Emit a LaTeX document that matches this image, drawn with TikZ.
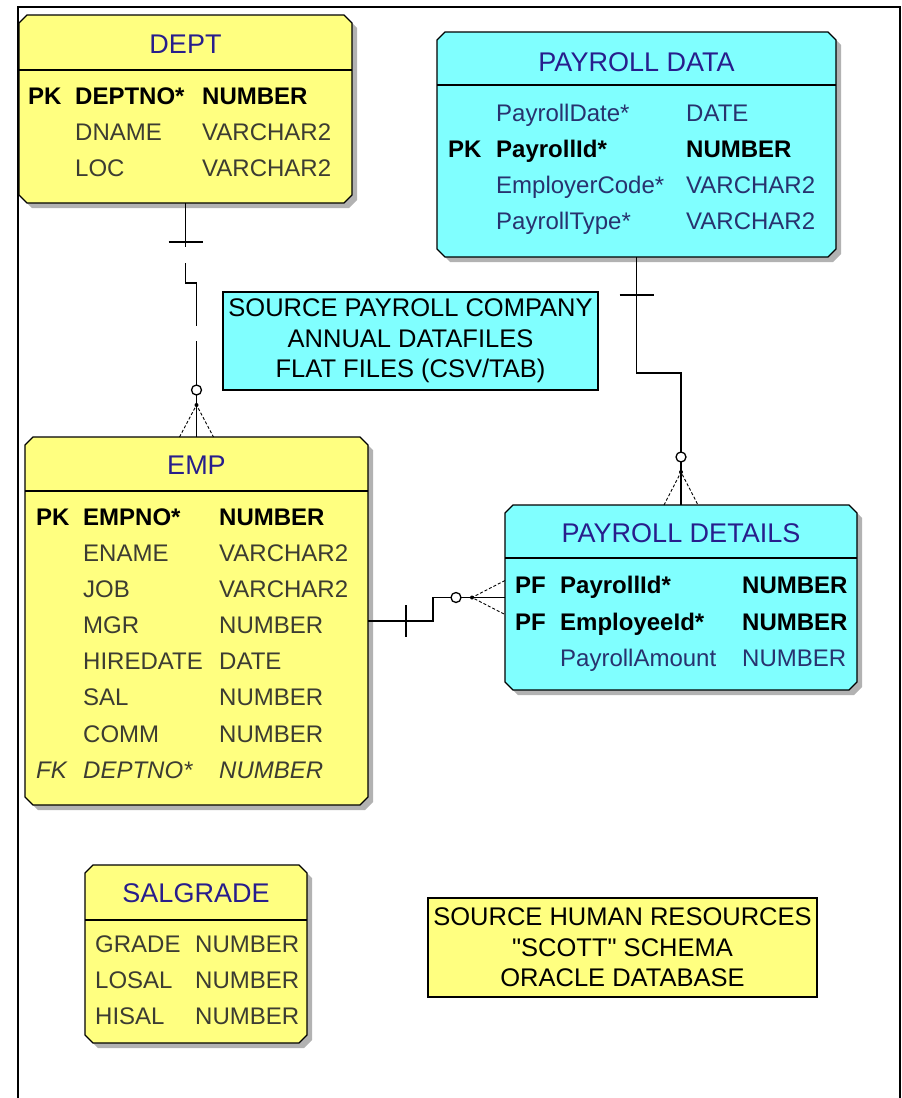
\documentclass[tikz,border=0pt]{standalone}
\usepackage{fontspec}
\setmainfont{Liberation Sans}
\newfontfamily\notefont{Liberation Sans}[Ligatures=TeXOff]
\usetikzlibrary{calc}

\definecolor{entyellow}{RGB}{255,255,128}
\definecolor{entcyan}{RGB}{128,255,255}
\definecolor{titleblue}{RGB}{40,30,140}
\definecolor{ytext}{RGB}{60,60,50}
\definecolor{ctext}{RGB}{40,50,110}

\tikzset{
  ent/.style={rectangle, inner sep=0pt, outer sep=0pt},
  title/.style={font=\fontsize{27}{30}\selectfont, text=titleblue, anchor=base, inner sep=0pt},
  txt/.style={font=\fontsize{24}{28}\selectfont, anchor=base west, inner sep=0pt},
  pk/.style={txt, font=\fontsize{24}{28}\selectfont\bfseries, text=black},
  yfld/.style={txt, text=ytext},
  cfld/.style={txt, text=ctext},
  fk/.style={txt, font=\fontsize{24}{28}\selectfont\itshape, text=ytext},
  note/.style={draw, line width=1.3pt, inner sep=0pt, align=center,
    font=\notefont\fontsize{25.5}{30.5}\selectfont},
  rel/.style={line width=1.3pt},
  foot/.style={line width=0.9pt, dash pattern=on 3pt off 2pt},
}

% chamfered outline with drop shadow round an entity node
\newcommand{\chamferbox}[2]{%
  \fill[black!30] ($(#1.north west)+(13,5)$) -- ($(#1.north east)+(-3,5)$)
    -- ($(#1.north east)+(5,13)$) -- ($(#1.south east)+(5,-3)$)
    -- ($(#1.south east)+(-3,5)$) -- ($(#1.south west)+(13,5)$)
    -- ($(#1.south west)+(5,-3)$) -- ($(#1.north west)+(5,13)$) -- cycle;
  \draw[rel, fill=#2] ($(#1.north west)+(8,0)$) -- ($(#1.north east)+(-8,0)$)
    -- ($(#1.north east)+(0,8)$) -- ($(#1.south east)+(0,-8)$)
    -- ($(#1.south east)+(-8,0)$) -- ($(#1.south west)+(8,0)$)
    -- ($(#1.south west)+(0,-8)$) -- ($(#1.north west)+(0,8)$) -- cycle;
}

\begin{document}
\begin{tikzpicture}[x=1pt, y=-1pt]
\useasboundingbox (0,0) rectangle (902,1098);
% frame
\draw[line width=2pt] (18,1098) -- (18,7) -- (900,7) -- (900,1098);

% entities
\node[ent, minimum width=333pt, minimum height=188pt] (dept) at (185.5,109) {};
\chamferbox{dept}{entyellow}
\node[ent, minimum width=399pt, minimum height=225pt] (pdata) at (636.5,144.5) {};
\chamferbox{pdata}{entcyan}
\node[ent, minimum width=343pt, minimum height=368pt] (emp) at (196.5,621) {};
\chamferbox{emp}{entyellow}
\node[ent, minimum width=352pt, minimum height=185pt] (pdet) at (681,597.5) {};
\chamferbox{pdet}{entcyan}
\node[ent, minimum width=222pt, minimum height=178pt] (salgrade) at (196,954) {};
\chamferbox{salgrade}{entyellow}

% header lines
\draw[rel] (dept.west |- 0,70) -- (dept.east |- 0,70);
\draw[rel] (pdata.west |- 0,85) -- (pdata.east |- 0,85);
\draw[rel] (emp.west |- 0,491) -- (emp.east |- 0,491);
\draw[rel] (pdet.west |- 0,558) -- (pdet.east |- 0,558);
\draw[rel] (salgrade.west |- 0,920) -- (salgrade.east |- 0,920);

% titles
\node[title] (dept-title) at (185.5,53) {DEPT};
\node[title] (pdata-title) at (636.5,71) {PAYROLL DATA};
\node[title] (emp-title) at (196.5,474) {EMP};
\node[title] (pdet-title) at (681,542) {PAYROLL DETAILS};
\node[title] (salgrade-title) at (196,902) {SALGRADE};

% DEPT columns
\node[pk] (dept-k1) at (28,104) {PK};
\node[pk] (dept-f1) at (75,104) {DEPTNO*};
\node[pk] (dept-t1) at (202,104) {NUMBER};
\node[yfld] (dept-f2) at (75,140) {DNAME};
\node[yfld] (dept-t2) at (202,140) {VARCHAR2};
\node[yfld] (dept-f3) at (75,176) {LOC};
\node[yfld] (dept-t3) at (202,176) {VARCHAR2};

% PAYROLL DATA columns
\node[cfld] (pdata-f1) at (496,121) {PayrollDate*};
\node[cfld] (pdata-t1) at (686,121) {DATE};
\node[pk] (pdata-k2) at (448,157) {PK};
\node[pk] (pdata-f2) at (496,157) {PayrollId*};
\node[pk] (pdata-t2) at (686,157) {NUMBER};
\node[cfld] (pdata-f3) at (496,193) {EmployerCode*};
\node[cfld] (pdata-t3) at (686,193) {VARCHAR2};
\node[cfld] (pdata-f4) at (496,229) {PayrollType*};
\node[cfld] (pdata-t4) at (686,229) {VARCHAR2};

% EMP columns
\node[pk] (emp-k1) at (36,525) {PK};
\node[pk] (emp-f1) at (83,525) {EMPNO*};
\node[pk] (emp-t1) at (219,525) {NUMBER};
\node[yfld] (emp-f2) at (83,561) {ENAME};
\node[yfld] (emp-t2) at (219,561) {VARCHAR2};
\node[yfld] (emp-f3) at (83,597) {JOB};
\node[yfld] (emp-t3) at (219,597) {VARCHAR2};
\node[yfld] (emp-f4) at (83,633) {MGR};
\node[yfld] (emp-t4) at (219,633) {NUMBER};
\node[yfld] (emp-f5) at (83,669) {HIREDATE};
\node[yfld] (emp-t5) at (219,669) {DATE};
\node[yfld] (emp-f6) at (83,705) {SAL};
\node[yfld] (emp-t6) at (219,705) {NUMBER};
\node[yfld] (emp-f7) at (83,742) {COMM};
\node[yfld] (emp-t7) at (219,742) {NUMBER};
\node[fk] (emp-k8) at (36,778) {FK};
\node[fk] (emp-f8) at (83,778) {DEPTNO*};
\node[fk] (emp-t8) at (219,778) {NUMBER};

% PAYROLL DETAILS columns
\node[pk] (pdet-k1) at (515,593) {PF};
\node[pk] (pdet-f1) at (560,593) {PayrollId*};
\node[pk] (pdet-t1) at (742,593) {NUMBER};
\node[pk] (pdet-k2) at (515,630) {PF};
\node[pk] (pdet-f2) at (560,630) {EmployeeId*};
\node[pk] (pdet-t2) at (742,630) {NUMBER};
\node[cfld] (pdet-f3) at (560,666) {PayrollAmount};
\node[cfld] (pdet-t3) at (742,666) {NUMBER};

% SALGRADE columns
\node[yfld] (salgrade-f1) at (95,952) {GRADE};
\node[yfld] (salgrade-t1) at (195,952) {NUMBER};
\node[yfld] (salgrade-f2) at (95,988) {LOSAL};
\node[yfld] (salgrade-t2) at (195,988) {NUMBER};
\node[yfld] (salgrade-f3) at (95,1024) {HISAL};
\node[yfld] (salgrade-t3) at (195,1024) {NUMBER};

% notes
\node[note, fill=entcyan, minimum width=375pt, minimum height=98pt] (srcpay) at (410.5,341)
  {SOURCE PAYROLL COMPANY\\ANNUAL DATAFILES\\FLAT FILES (CSV/TAB)};
\node[note, fill=entyellow, minimum width=389pt, minimum height=99pt] (srchr) at (622.5,947.5)
  {SOURCE HUMAN RESOURCES\\"SCOTT" SCHEMA\\ORACLE DATABASE};

% DEPT -- EMP (optional, dashed)
\draw[rel, dash pattern=on 44pt off 16pt on 74pt off 15pt on 60pt]
  (dept.south) -- ++(0,80) -| ($(emp.north)+(0,-52)$);
\draw[rel] ($(dept.south)+(-17,39)$) -- ++(34,0);
\draw[rel] ($(emp.north)+(0,-47)$) circle[radius=5pt];
\draw[rel] ($(emp.north)+(0,-42)$) -- (emp.north);
\fill ($(emp.north)+(0,-32)$) circle[radius=2pt];
\draw[foot] ($(emp.north)+(-17,0)$) -- ($(emp.north)+(0,-32)$) -- ($(emp.north)+(17,0)$);

% PAYROLL DATA -- PAYROLL DETAILS
\draw[rel] (pdata.south) -- ++(0,116) -| ($(pdet.north)+(0,-53)$);
\draw[rel] ($(pdata.south)+(-17,38)$) -- ++(34,0);
\draw[rel] ($(pdet.north)+(0,-48)$) circle[radius=5pt];
\draw[rel] ($(pdet.north)+(0,-43)$) -- (pdet.north);
\fill ($(pdet.north)+(0,-33)$) circle[radius=2pt];
\draw[foot] ($(pdet.north)+(-17,0)$) -- ($(pdet.north)+(0,-33)$) -- ($(pdet.north)+(17,0)$);

% EMP -- PAYROLL DETAILS
\draw[rel] (emp.east) -- ++(65,0) |- ($(pdet.west)+(-54,0)$);
\draw[rel] ($(emp.east)+(38,-16)$) -- ++(0,32);
\draw[rel] ($(pdet.west)+(-49,0)$) circle[radius=5pt];
\draw[rel] ($(pdet.west)+(-44,0)$) -- (pdet.west);
\fill ($(pdet.west)+(-33,0)$) circle[radius=2pt];
\draw[foot] ($(pdet.west)+(0,-17)$) -- ($(pdet.west)+(-33,0)$) -- ($(pdet.west)+(0,17)$);
\end{tikzpicture}
\end{document}
